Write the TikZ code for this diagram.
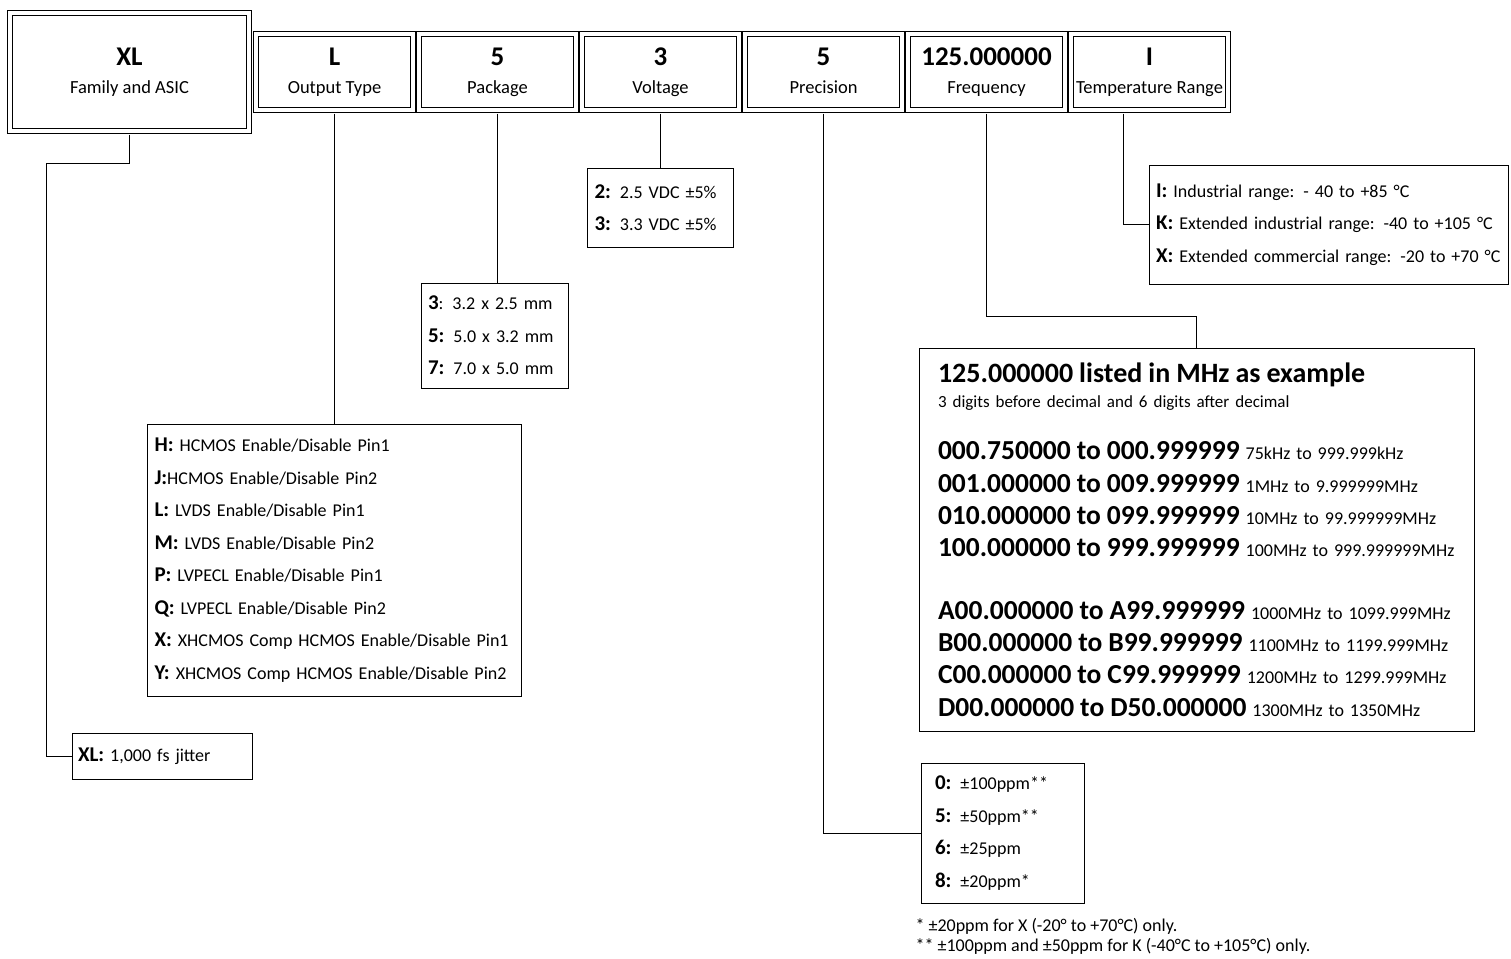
\documentclass[tikz,border=0pt]{standalone}
\usepackage{fontspec}
\setmainfont{Carlito}
\usetikzlibrary{shapes,arrows}
\newcommand{\field}[2]{{\fontsize{27}{27}\selectfont\bfseries #1}\\{#2\vphantom{y}}}
\newcommand{\opt}[1]{{\fontsize{21}{21}\selectfont\bfseries #1}}
\newcommand{\freqrange}[2]{{\fontsize{27.5}{27.5}\selectfont\bfseries #1} {\fontsize{18}{18}\selectfont #2}}

\begin{document}
\begin{tikzpicture}[x=1pt, y=-1pt, node distance=163pt,
	field/.style={draw, double, line width=1pt, double distance=4pt, minimum width=157.2pt, minimum height=76.2pt, align=center, font=\fontsize{18.5}{28}\selectfont},
	choice/.style={draw, line width=0.9pt, inner xsep=7pt, inner ysep=0pt, align=left, font=\fontsize{18}{32.5}\selectfont},
	link/.style={draw, line width=0.8pt, shorten <=2.9pt}]
	\useasboundingbox (0,0) rectangle (1511,958);

	\node[field, minimum width=239.2pt, minimum height=118.2pt] (family) at (129.5,72) {\field{XL}{Family and ASIC}};
	\node[field, right of=family, node distance=205pt] (output) {\field{L}{Output Type}};
	\node[field, right of=output] (package) {\field{5}{Package}};
	\node[field, right of=package] (voltage) {\field{3}{Voltage}};
	\node[field, right of=voltage] (precision) {\field{5}{Precision}};
	\node[field, right of=precision] (freq) {\field{125.000000}{Frequency}};
	\node[field, right of=freq] (temp) {\field{I}{Temperature Range}};

	\node[choice, below of=output, node distance=488pt, text width=360pt, minimum height=272pt] (outputs) {%
		\opt{H:} HCMOS Enable/Disable Pin1\\
		\opt{J:}HCMOS Enable/Disable Pin2\\
		\opt{L:} LVDS Enable/Disable Pin1\\
		\opt{M:} LVDS Enable/Disable Pin2\\
		\opt{P:} LVPECL Enable/Disable Pin1\\
		\opt{Q:} LVPECL Enable/Disable Pin2\\
		\opt{X:} XHCMOS Comp HCMOS Enable/Disable Pin1\\
		\opt{Y:} XHCMOS Comp HCMOS Enable/Disable Pin2};
	\node[choice, text width=133pt, minimum height=105pt] (packages) at (494.5,335.5) {%
		\opt{3}: 3.2 x 2.5 mm\\
		\opt{5:} 5.0 x 3.2 mm\\
		\opt{7:} 7.0 x 5.0 mm};
	\node[choice, below of=voltage, node distance=135.5pt, text width=132pt, minimum height=79pt] (voltages) {%
		\opt{2:} 2.5 VDC ±5\%\\
		\opt{3:} 3.3 VDC ±5\%};
	\node[choice, text width=345pt, minimum height=119pt] (temps) at (1328.5,224.5) {%
		\opt{I:} Industrial range: - 40 to +85 °C\\
		\opt{K:} Extended industrial range: -40 to +105 °C\\
		\opt{X:} Extended commercial range: -20 to +70 °C};
	\node[choice, inner xsep=6pt, text width=168pt, minimum height=46pt] (jitter) at (162,756) {%
		\opt{XL:} 1,000 fs jitter};
	\node[choice, inner xsep=14pt, text width=135pt, minimum height=140pt] (precisions) at (1002.5,833) {%
		\opt{0:} ±100ppm**\\
		\opt{5:} ±50ppm**\\
		\opt{6:} ±25ppm\\
		\opt{8:} ±20ppm*};
	\node[choice, inner xsep=19pt, text width=517pt, minimum height=383pt, font=\fontsize{18}{32.3}\selectfont] (freqs) at (1196.5,539.5) {%
		{\fontsize{28}{28}\selectfont\bfseries 125.000000 listed in MHz as example}\\[-7pt]
		{\fontsize{17}{17}\selectfont 3 digits before decimal and 6 digits after decimal}\\[20pt]
		\freqrange{000.750000 to 000.999999}{75kHz to 999.999kHz}\\
		\freqrange{001.000000 to 009.999999}{1MHz to 9.999999MHz}\\
		\freqrange{010.000000 to 099.999999}{10MHz to 99.999999MHz}\\
		\freqrange{100.000000 to 999.999999}{100MHz to 999.999999MHz}\\[30pt]
		\freqrange{A00.000000 to A99.999999}{1000MHz to 1099.999MHz}\\
		\freqrange{B00.000000 to B99.999999}{1100MHz to 1199.999MHz}\\
		\freqrange{C00.000000 to C99.999999}{1200MHz to 1299.999MHz}\\
		\freqrange{D00.000000 to D50.000000}{1300MHz to 1350MHz}};
	\node[anchor=west, align=left, font=\fontsize{18}{20}\selectfont] (notes) at (912,936) {%
		* ±20ppm for X (-20° to +70°C) only.\\
		** ±100ppm and ±50ppm for K (-40°C to +105°C) only.};

	\coordinate (vfamily) at (46,163);
	\coordinate (vfreq) at (1196.5,316);
	\draw[link] (family.south) |- (vfamily) |- (jitter.west);
	\draw[link] (output.south) -- (outputs.north);
	\draw[link] (package.south) -- (package.south |- packages.north);
	\draw[link] (voltage.south) -- (voltages.north);
	\draw[link] (precision.south) |- (precisions.west);
	\draw[link] (freq.south) |- (vfreq) -- (freqs.north);
	\draw[link] ([xshift=-26pt]temp.south) |- (temps.west);
\end{tikzpicture}
\end{document}
